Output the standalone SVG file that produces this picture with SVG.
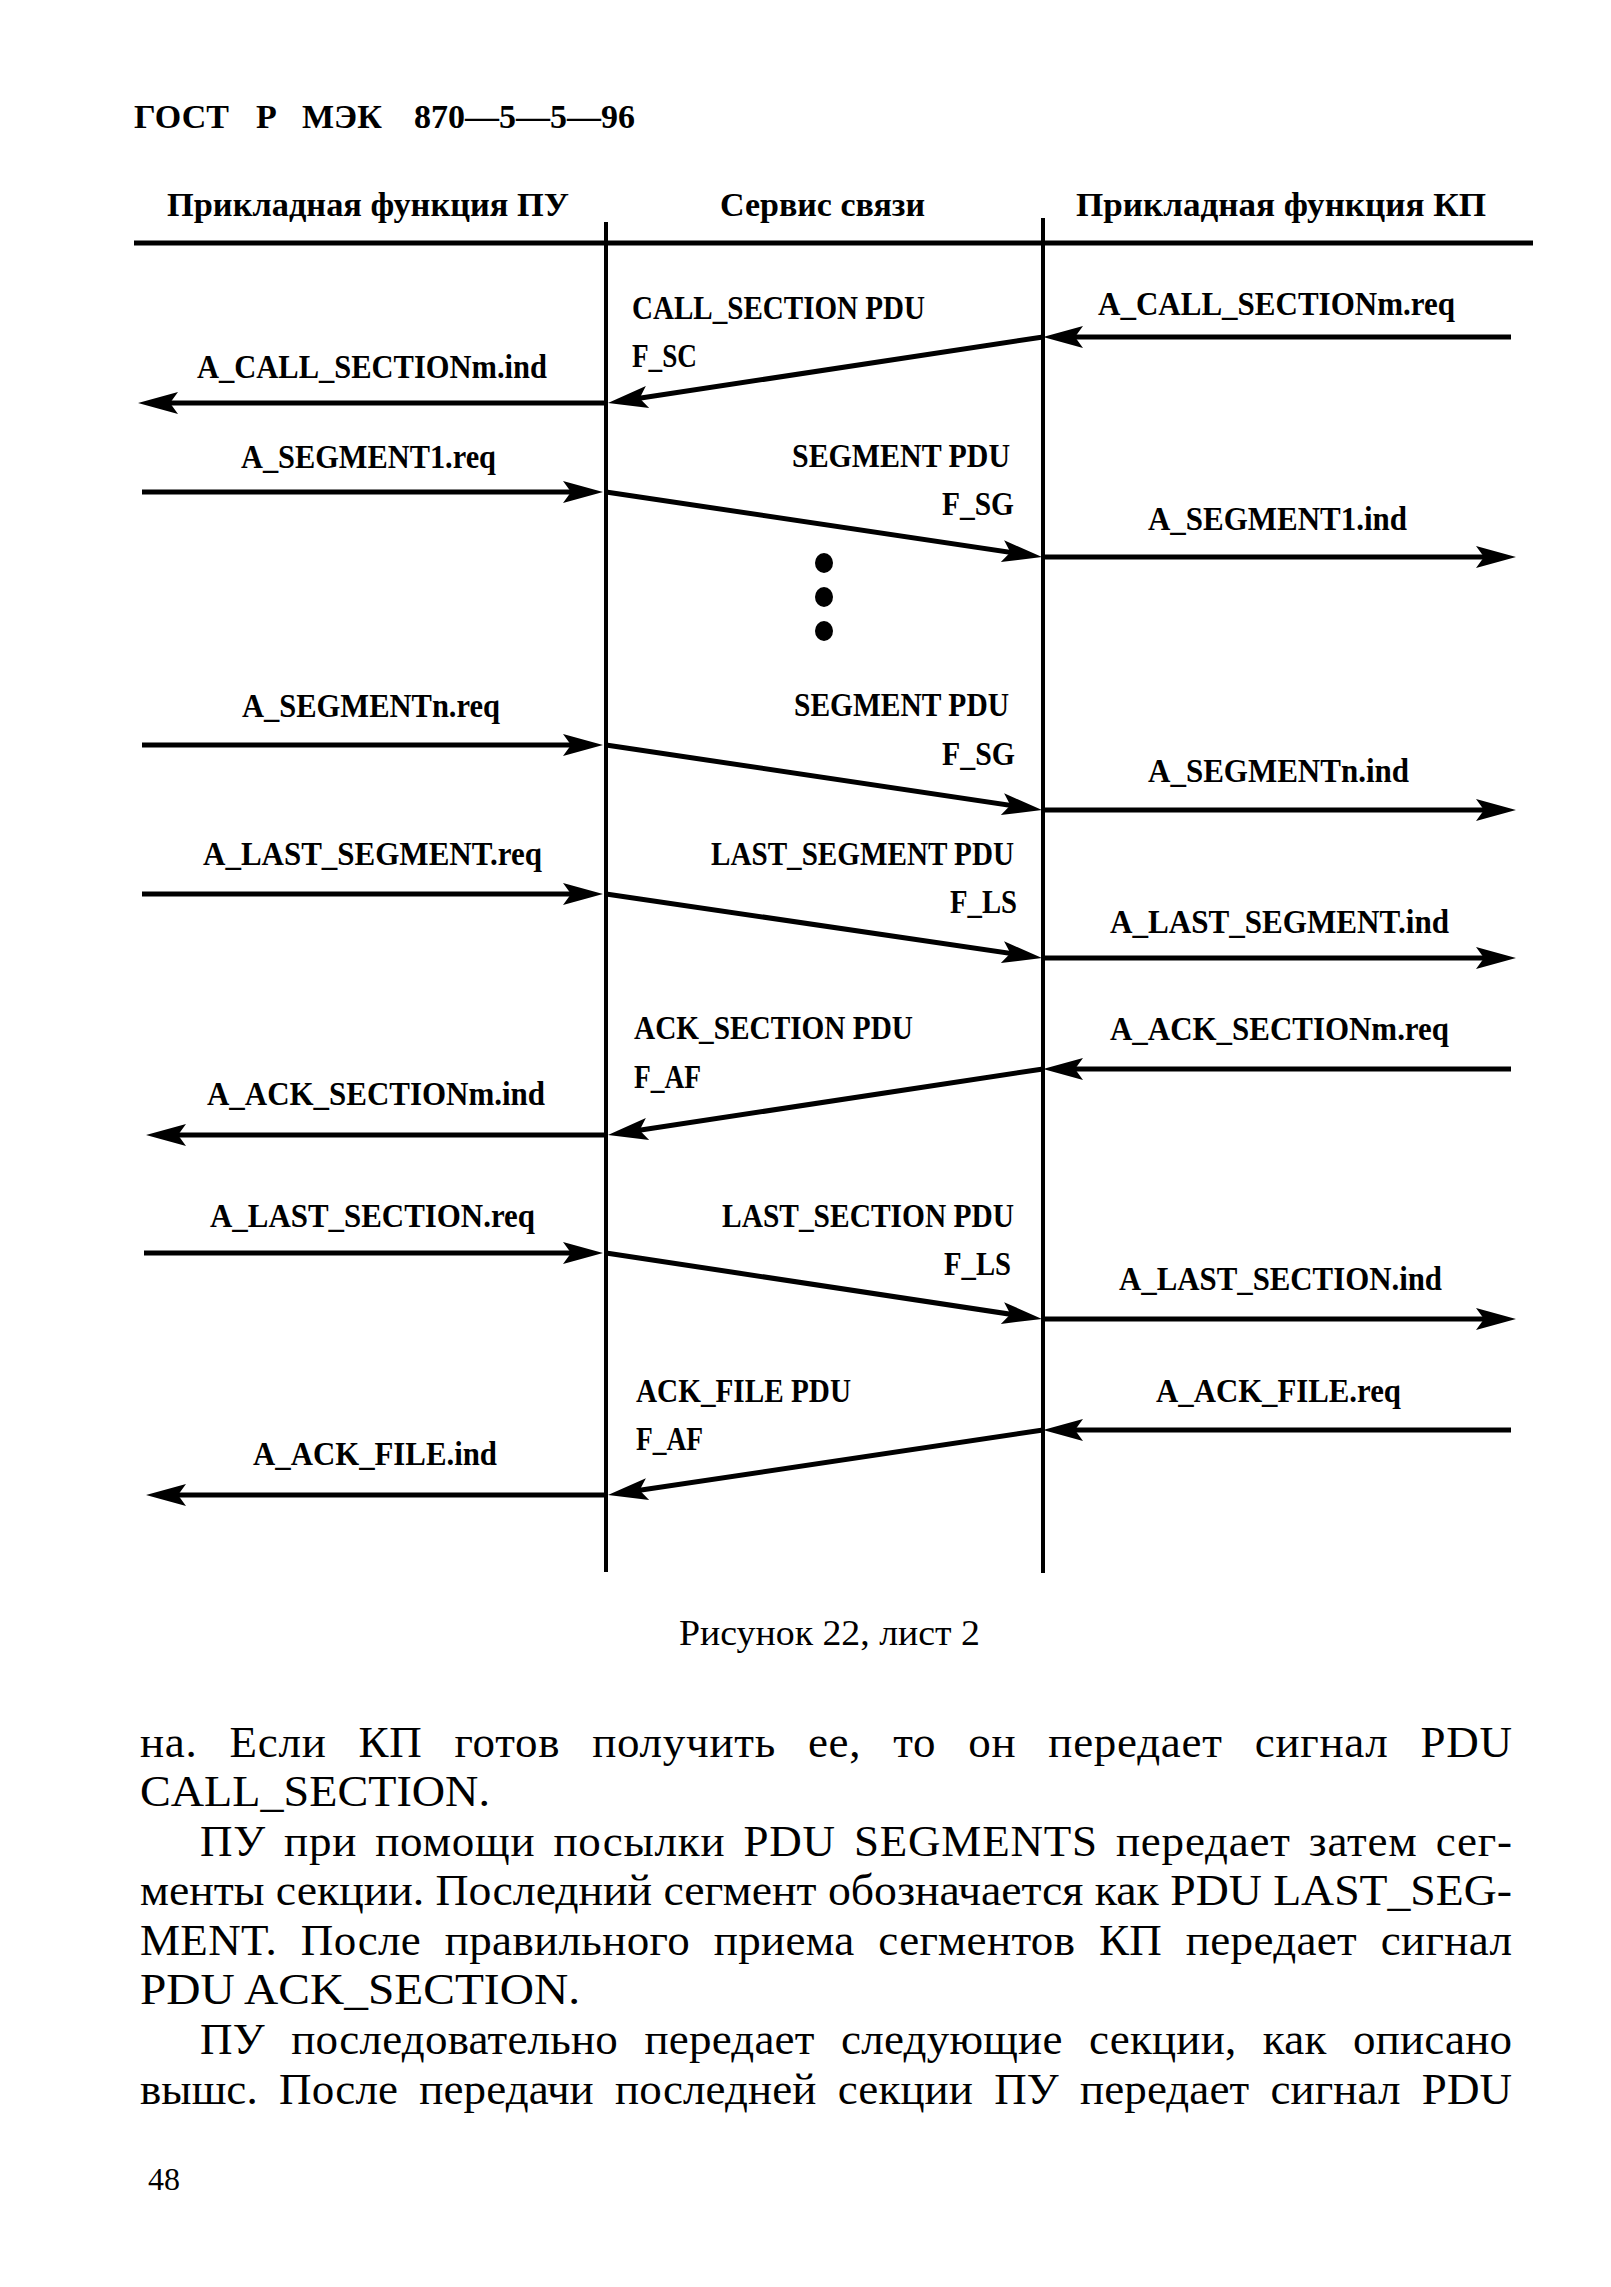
<svg xmlns="http://www.w3.org/2000/svg" width="1611" height="2287" viewBox="0 0 1611 2287">
<style>
text { font-family: "Liberation Serif", "Times New Roman", serif; fill: #000; }
.t { font-weight: bold; font-size: 33px; }
.h { font-weight: bold; font-size: 34px; }
.b { font-size: 45px; }
.cap { font-size: 35px; }
.pg { font-size: 32px; }
.arr { stroke: #000; stroke-width: 5; fill: none; marker-end: url(#ah); }
.life { stroke: #000; stroke-width: 4; fill: none; }
.rule { stroke: #000; stroke-width: 5; fill: none; }
</style>
<defs>
<marker id="ah" markerUnits="userSpaceOnUse" markerWidth="50" markerHeight="30" viewBox="-45 -15 50 30" refX="-15" refY="0" orient="auto">
<path d="M0,0 L-40,-11 L-32,0 L-40,11 Z" fill="#000"/>
</marker>
</defs>
<rect width="1611" height="2287" fill="#fff"/>

<g id="page-header">
<text class="h" y="128"><tspan x="134">ГОСТ</tspan><tspan x="256">Р</tspan><tspan x="302">МЭК</tspan><tspan x="414">870—5—5—96</tspan></text>
</g>

<g id="header-rule">
<path class="rule" d="M134,243 H1533"/>
</g>

<g id="lifeline-pu">
<text class="h" x="167" y="216" textLength="402" lengthAdjust="spacingAndGlyphs">Прикладная функция ПУ</text>
</g>
<g id="lifeline-service">
<text class="h" x="720" y="216" textLength="205" lengthAdjust="spacingAndGlyphs">Сервис связи</text>
<path class="life" d="M606,222 V1572"/>
<path class="life" d="M1043,218 V1573"/>
</g>
<g id="lifeline-kp">
<text class="h" x="1076" y="216" textLength="410" lengthAdjust="spacingAndGlyphs">Прикладная функция КП</text>
</g>

<g id="msg-call-section">
<text class="t" x="632" y="319" textLength="293" lengthAdjust="spacingAndGlyphs">CALL_SECTION PDU</text>
<text class="t" x="632" y="367" textLength="65" lengthAdjust="spacingAndGlyphs">F_SC</text>
<text class="t" x="1098" y="315" textLength="357" lengthAdjust="spacingAndGlyphs">A_CALL_SECTIONm.req</text>
<text class="t" x="197" y="378" textLength="350" lengthAdjust="spacingAndGlyphs">A_CALL_SECTIONm.ind</text>
</g>
<g id="msg-segment1">
<text class="t" x="241" y="468" textLength="255" lengthAdjust="spacingAndGlyphs">A_SEGMENT1.req</text>
<text class="t" x="792" y="467" textLength="218" lengthAdjust="spacingAndGlyphs">SEGMENT PDU</text>
<text class="t" x="942" y="515" textLength="72" lengthAdjust="spacingAndGlyphs">F_SG</text>
<text class="t" x="1148" y="530" textLength="259" lengthAdjust="spacingAndGlyphs">A_SEGMENT1.ind</text>
</g>
<g id="ellipsis">
<ellipse cx="824" cy="563" rx="9" ry="10" fill="#000"/>
<ellipse cx="824" cy="597" rx="9" ry="10" fill="#000"/>
<ellipse cx="824" cy="631" rx="9" ry="10" fill="#000"/>
</g>
<g id="msg-segmentn">
<text class="t" x="242" y="717" textLength="258" lengthAdjust="spacingAndGlyphs">A_SEGMENTn.req</text>
<text class="t" x="794" y="716" textLength="215" lengthAdjust="spacingAndGlyphs">SEGMENT PDU</text>
<text class="t" x="942" y="765" textLength="73" lengthAdjust="spacingAndGlyphs">F_SG</text>
<text class="t" x="1148" y="782" textLength="261" lengthAdjust="spacingAndGlyphs">A_SEGMENTn.ind</text>
</g>
<g id="msg-last-segment">
<text class="t" x="203" y="865" textLength="339" lengthAdjust="spacingAndGlyphs">A_LAST_SEGMENT.req</text>
<text class="t" x="711" y="865" textLength="303" lengthAdjust="spacingAndGlyphs">LAST_SEGMENT PDU</text>
<text class="t" x="950" y="913" textLength="67" lengthAdjust="spacingAndGlyphs">F_LS</text>
<text class="t" x="1110" y="933" textLength="339" lengthAdjust="spacingAndGlyphs">A_LAST_SEGMENT.ind</text>
</g>
<g id="msg-ack-section">
<text class="t" x="634" y="1039" textLength="279" lengthAdjust="spacingAndGlyphs">ACK_SECTION PDU</text>
<text class="t" x="634" y="1088" textLength="67" lengthAdjust="spacingAndGlyphs">F_AF</text>
<text class="t" x="1110" y="1040" textLength="339" lengthAdjust="spacingAndGlyphs">A_ACK_SECTIONm.req</text>
<text class="t" x="207" y="1105" textLength="338" lengthAdjust="spacingAndGlyphs">A_ACK_SECTIONm.ind</text>
</g>
<g id="msg-last-section">
<text class="t" x="210" y="1227" textLength="325" lengthAdjust="spacingAndGlyphs">A_LAST_SECTION.req</text>
<text class="t" x="722" y="1227" textLength="292" lengthAdjust="spacingAndGlyphs">LAST_SECTION PDU</text>
<text class="t" x="944" y="1275" textLength="67" lengthAdjust="spacingAndGlyphs">F_LS</text>
<text class="t" x="1119" y="1290" textLength="323" lengthAdjust="spacingAndGlyphs">A_LAST_SECTION.ind</text>
</g>
<g id="msg-ack-file">
<text class="t" x="636" y="1402" textLength="215" lengthAdjust="spacingAndGlyphs">ACK_FILE PDU</text>
<text class="t" x="636" y="1450" textLength="67" lengthAdjust="spacingAndGlyphs">F_AF</text>
<text class="t" x="1156" y="1402" textLength="245" lengthAdjust="spacingAndGlyphs">A_ACK_FILE.req</text>
<text class="t" x="253" y="1465" textLength="244" lengthAdjust="spacingAndGlyphs">A_ACK_FILE.ind</text>
</g>

<g id="connectors">
<path class="arr" d="M1511,337 H1058"/>
<path class="arr" d="M1043,337 L622.8,400.75"/>
<path class="arr" d="M607,403 H153"/>
<path class="arr" d="M142,492 H588"/>
<path class="arr" d="M606,492 L1027.2,554.8"/>
<path class="arr" d="M1043,557 H1501"/>
<path class="arr" d="M142,745 H588"/>
<path class="arr" d="M606,745 L1027.2,807.8"/>
<path class="arr" d="M1043,810 H1501"/>
<path class="arr" d="M142,894 H588"/>
<path class="arr" d="M606,894 L1027.2,955.8"/>
<path class="arr" d="M1043,958 H1501"/>
<path class="arr" d="M1511,1069 H1058"/>
<path class="arr" d="M1043,1069 L622.8,1132.75"/>
<path class="arr" d="M607,1135 H161"/>
<path class="arr" d="M144,1253 H588"/>
<path class="arr" d="M606,1253 L1027.2,1316.75"/>
<path class="arr" d="M1043,1319 H1501"/>
<path class="arr" d="M1511,1430 H1058"/>
<path class="arr" d="M1043,1430 L622.8,1492.8"/>
<path class="arr" d="M607,1495 H161"/>
</g>

<g id="caption">
<text class="cap" x="679" y="1645" textLength="301" lengthAdjust="spacingAndGlyphs">Рисунок 22, лист 2</text>
</g>

<g id="body-text">
<text class="b" x="140" y="1757" word-spacing="20" textLength="1372" lengthAdjust="spacing">на. Если КП готов получить ее, то он передает сигнал PDU</text>
<text class="b" x="140" y="1806" textLength="350" lengthAdjust="spacingAndGlyphs">CALL_SECTION.</text>
<text class="b" x="200" y="1856" word-spacing="6" textLength="1312" lengthAdjust="spacing">ПУ при помощи посылки PDU SEGMENTS передает затем сег-</text>
<text class="b" x="140" y="1905" textLength="1372" lengthAdjust="spacingAndGlyphs">менты секции. Последний сегмент обозначается как PDU LAST_SEG-</text>
<text class="b" x="140" y="1955" word-spacing="12" textLength="1372" lengthAdjust="spacing">MENT. После правильного приема сегментов КП передает сигнал</text>
<text class="b" x="140" y="2004" textLength="440" lengthAdjust="spacingAndGlyphs">PDU ACK_SECTION.</text>
<text class="b" x="200" y="2054" word-spacing="15" textLength="1312" lengthAdjust="spacing">ПУ последовательно передает следующие секции, как описано</text>
<text class="b" x="140" y="2104" word-spacing="10" textLength="1372" lengthAdjust="spacing">вышс. После передачи последней секции ПУ передает сигнал PDU</text>
</g>

<g id="page-number">
<text class="pg" x="148" y="2190">48</text>
</g>
</svg>
